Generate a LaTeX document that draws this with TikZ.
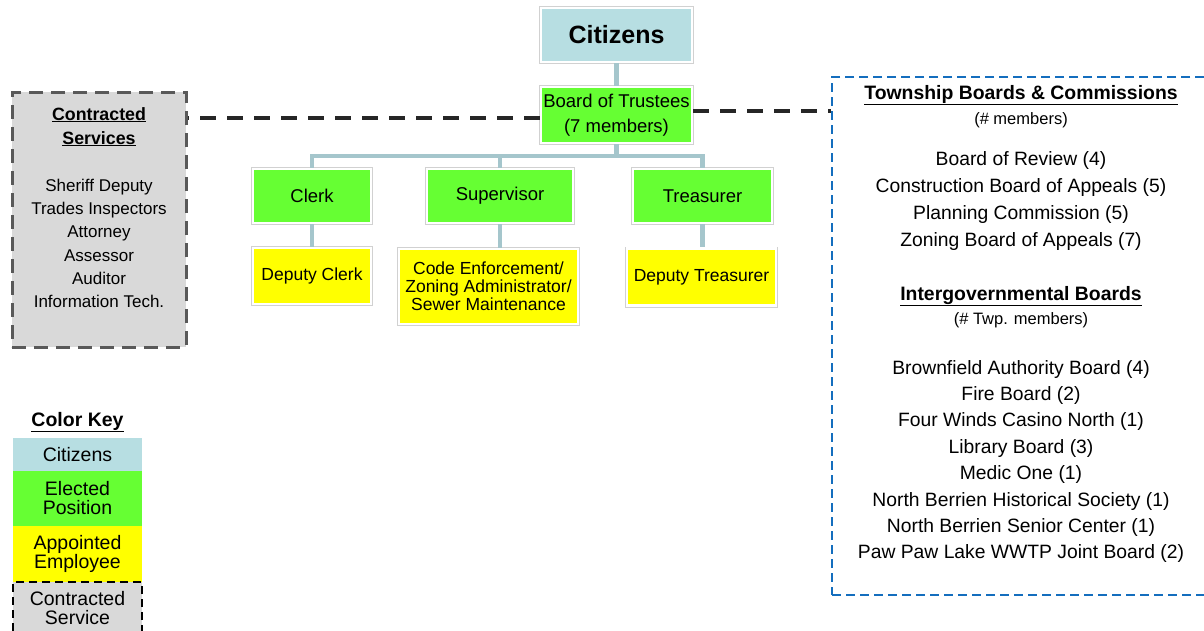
\documentclass[tikz,border=0pt]{standalone}
\usepackage{fontspec}
\setmainfont{Liberation Sans}
\definecolor{citz}{RGB}{183,222,226}
\definecolor{elect}{RGB}{102,255,51}
\definecolor{appt}{RGB}{255,255,0}
\definecolor{contr}{RGB}{217,217,217}
\definecolor{conn}{RGB}{165,198,204}
\definecolor{bluebd}{RGB}{20,110,190}
\definecolor{graybd}{RGB}{89,89,89}
\newcommand{\fs}[2]{\fontsize{#1}{#2}\selectfont}
\tikzset{
  orgbox/.style={draw=white, line width=2.5pt, preaction={draw=black!18, line width=4pt},
    inner sep=0pt, align=center, font=\fs{18.5}{25}},
  connline/.style={draw=conn, line width=4.5pt},
  blackdash/.style={draw=black!85, line width=3.5pt, dash pattern=on 16pt off 11pt},
  txt/.style={inner sep=0pt, anchor=base, align=center},
  keybox/.style={inner sep=0pt, minimum width=129pt, align=center, font=\fs{19.5}{19}},
}
\begin{document}
\begin{tikzpicture}[x=1pt,y=-1pt]
\useasboundingbox (0,0) rectangle (1204,630);
\clip (0,0) rectangle (1204,630);
\fill[white] (0,0) rectangle (1204,630);

% org chart
\node[orgbox, fill=citz, minimum width=151pt, minimum height=54pt, font=\fs{25}{28}\bfseries] (cit) at (616.5,35) {Citizens};
\node[orgbox, fill=elect, minimum width=151pt, minimum height=56pt] (bot) at (616.5,115) {Board of Trustees\\(7 members)};
\node[orgbox, fill=elect, minimum width=118pt, minimum height=54pt] (clerk) at (312,196) {Clerk};
\node[orgbox, fill=elect, minimum width=146pt, minimum height=54pt] (sup) at (500,196) {Supervisor};
\node[orgbox, fill=elect, minimum width=139pt, minimum height=54pt] (tre) at (702.5,196) {Treasurer};
\node[orgbox, fill=appt, minimum width=118pt, minimum height=56pt, font=\fs{17.5}{18}] (dclerk) at (312,276) {Deputy Clerk};
\node[orgbox, fill=appt, minimum width=179pt, minimum height=75pt, font=\fs{17.5}{18}] (code) at (488.5,286.5) {Code Enforcement/\\Zoning Administrator/\\Sewer Maintenance};
\node[orgbox, fill=appt, minimum width=149pt, minimum height=57pt, font=\fs{17.5}{18}] (dtre) at (701.5,277) {Deputy Treasurer};

\coordinate (bus) at (616.5,156);
\draw[connline] (cit.south) -- (bot.north);
\draw[connline] (bot.south) -- (bus) -| (clerk.north);
\draw[connline] (bus) -| (sup.north);
\draw[connline] (bus) -| (tre.north);
\draw[connline] (clerk.south) -- (dclerk.north);
\draw[connline] (sup.south) -- (sup.south |- code.north);
\draw[connline] (tre.south) -- (tre.south |- dtre.north);

% contracted services
\node[draw=graybd, fill=contr, line width=3pt, dash pattern=on 14pt off 8pt, minimum width=174pt, minimum height=255pt, inner sep=0pt] (cs) at (99,219.5) {};
\node[txt, font=\fs{17.8}{24}\bfseries] (cst) at (99,144) {\underline{Contracted}\\[0pt]\underline{Services}};
\node[txt, font=\fs{17}{23.2}, anchor=north] (csl) at (99,179) {Sheriff Deputy\\Trades Inspectors\\Attorney\\Assessor\\Auditor\\Information Tech.};

\draw[blackdash] ([yshift=-3pt]bot.west) -- ([yshift=-3pt]bot.west -| cs.east);

% township boards
\node[draw=bluebd, line width=1.6pt, dash pattern=on 9pt off 5pt, minimum width=382pt, minimum height=518pt, inner sep=0pt] (tb) at (1023,336) {};
\draw[blackdash] ([yshift=4pt]bot.east) -- ([yshift=4pt]bot.east -| tb.west);

\begin{scope}[every node/.style={txt, font=\fs{19.3}{22}}]
\node[font=\fs{19.4}{22}\bfseries] (t1) at (1021,99) {\underline{Township Boards \& Commissions}};
\node[font=\fs{16.5}{20}] (t2) at (1021,124) {(\# members)};
\node (t3) at (1021,165) {Board of Review (4)};
\node (t4) at (1021,192) {Construction Board of Appeals (5)};
\node (t5) at (1021,219) {Planning Commission (5)};
\node (t6) at (1021,246) {Zoning Board of Appeals (7)};
\node[font=\fs{19.4}{22}\bfseries] (t7) at (1021,300) {\underline{Intergovernmental Boards}};
\node[font=\fs{16.5}{20}] (t8) at (1021,324) {(\# Twp. members)};
\node (t9) at (1021,374) {Brownfield Authority Board (4)};
\node (t10) at (1021,400) {Fire Board (2)};
\node (t11) at (1021,426) {Four Winds Casino North (1)};
\node (t12) at (1021,453) {Library Board (3)};
\node (t13) at (1021,479) {Medic One (1)};
\node (t14) at (1021,506) {North Berrien Historical Society (1)};
\node (t15) at (1021,532) {North Berrien Senior Center (1)};
\node (t16) at (1021,558) {Paw Paw Lake WWTP Joint Board (2)};
\end{scope}

% color key
\node[txt, font=\fs{19.5}{22}\bfseries] (ck) at (77.5,426) {\underline{Color Key}};
\node[keybox, fill=citz, minimum height=33pt] (k1) at (77.5,454.5) {Citizens};
\node[keybox, fill=elect, minimum height=55pt] (k2) at (77.5,498.5) {Elected\\Position};
\node[keybox, fill=appt, minimum height=56pt] (k3) at (77.5,554) {Appointed\\Employee};
\node[keybox, fill=contr, draw=black, line width=2pt, dash pattern=on 8pt off 5pt, minimum height=52pt] (k4) at (77.5,608) {Contracted\\Service};
\end{tikzpicture}
\end{document}
